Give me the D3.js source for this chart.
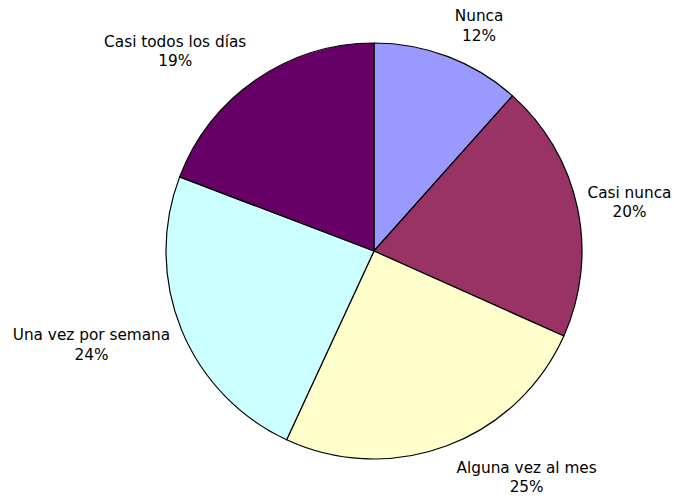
<!DOCTYPE html>
<html>
<head>
<meta charset="utf-8">
<script src="https://cdn.jsdelivr.net/npm/d3@7"></script>
<style>
  html, body { margin: 0; padding: 0; background: #fff; }
  svg { display: block; }
</style>
</head>
<body>
<script>
const categories = ['Nunca', 'Casi nunca', 'Alguna vez al mes', 'Una vez por semana', 'Casi todos los días'];
const values = [11.6, 20.1, 25.2, 23.9, 19.2];
const colors = ['#9999ff', '#993366', '#ffffcc', '#ccffff', '#660066'];
// small hand nudges so the labels sit where Excel put them
const labelNudge = [[16, 9], [11, 4], [65, -7], [-51, 0], [-57, 7]];

const width = 674;
const height = 500;
const cx = 374;
const cy = 251;
const radius = 208;

const svg = d3.select('body')
  .append('svg')
  .attr('width', width)
  .attr('height', height);

const g = svg.append('g').attr('transform', `translate(${cx}, ${cy})`);

const pie = d3.pie().sort(null).value(d => d);
const arcs = pie(values);
const total = d3.sum(values);

const arc = d3.arc().innerRadius(0).outerRadius(radius);
const labelArc = d3.arc().innerRadius(250).outerRadius(250);

g.selectAll('.slice')
  .data(arcs)
  .enter()
  .append('path')
  .attr('class', 'slice')
  .attr('d', arc)
  .attr('fill', (d, i) => colors[i])
  .attr('stroke', '#000')
  .attr('stroke-width', 1.2)
  .attr('stroke-linejoin', 'round');

const labels = g.selectAll('.label')
  .data(arcs)
  .enter()
  .append('text')
  .attr('class', 'label')
  .attr('transform', (d, i) => {
    const c = labelArc.centroid(d);
    return `translate(${c[0] + labelNudge[i][0]}, ${c[1] + labelNudge[i][1]})`;
  })
  .attr('text-anchor', 'middle')
  .style('font-family', '"DejaVu Sans", Verdana, sans-serif')
  .style('font-size', '15.3px')
  .attr('fill', '#000');

labels.append('tspan')
  .attr('x', 0)
  .attr('y', -5)
  .text((d, i) => categories[i]);

labels.append('tspan')
  .attr('x', 0)
  .attr('y', 14.3)
  .text(d => Math.round(d.value / total * 100) + '%');
</script>
</body>
</html>
